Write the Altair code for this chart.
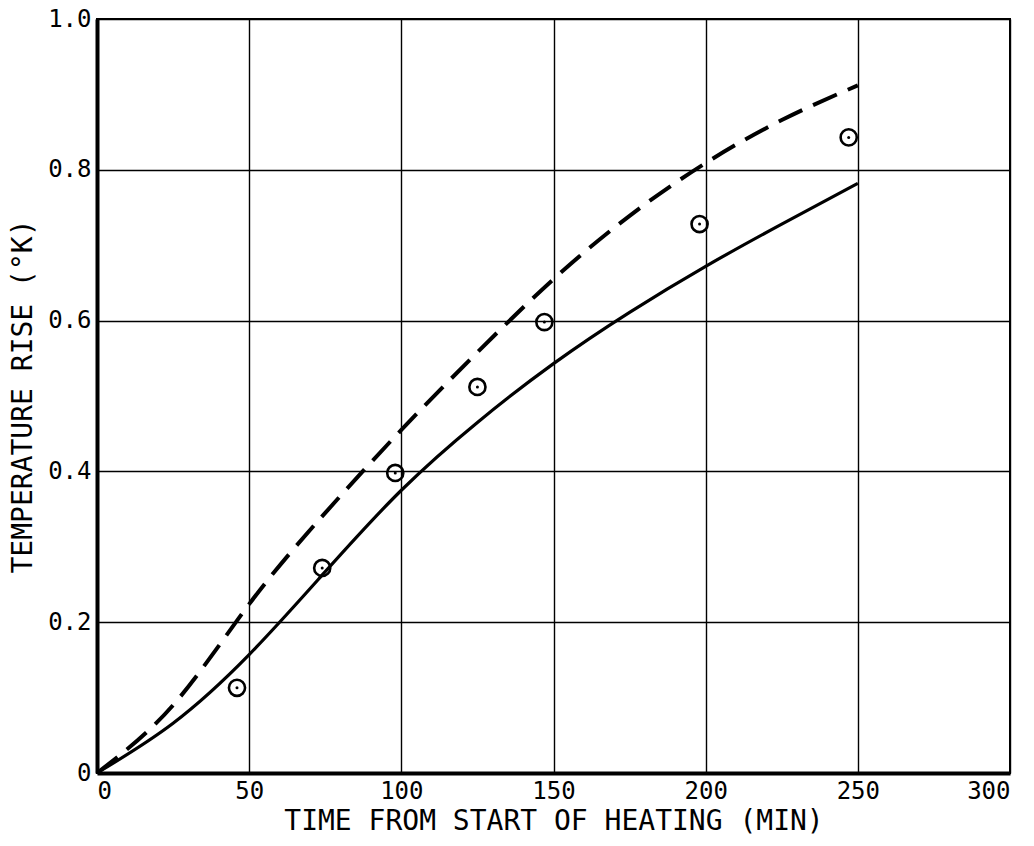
import altair as alt
import pandas as pd

# Solid curve (computed)
solid_t = [0, 25, 50, 75, 100, 125, 150, 175, 200, 225, 250]
solid_v = [0.0, 0.066, 0.157, 0.267, 0.375, 0.465, 0.543, 0.611, 0.672, 0.728, 0.782]

# Dashed curve
dash_t = [0, 25, 50, 75, 100, 125, 150, 175, 200, 225, 250]
dash_v = [0.0, 0.09, 0.224, 0.345, 0.455, 0.558, 0.655, 0.739, 0.809, 0.866, 0.912]

# Measured points
pt_t = [46, 74, 98, 125, 147, 198, 247]
pt_v = [0.113, 0.272, 0.398, 0.512, 0.598, 0.728, 0.843]

solid_df = pd.DataFrame({"t": solid_t, "v": solid_v})
dash_df = pd.DataFrame({"t": dash_t, "v": dash_v})
pt_df = pd.DataFrame({"t": pt_t, "v": pt_v})

FONT = "DejaVu Sans Mono"

x_scale = alt.Scale(domain=[0, 300], nice=False, zero=True)
y_scale = alt.Scale(domain=[0, 1.0], nice=False)

x_axis = alt.Axis(
    title="TIME FROM START OF HEATING (MIN)",
    values=[0, 50, 100, 150, 200, 250, 300],
    grid=True, gridColor="black", gridWidth=1.4, gridOpacity=1,
    domainColor="black", domainWidth=4,
    ticks=False, labelPadding=6,
    labelFont=FONT, labelFontSize=24, labelColor="black",
    titleFont=FONT, titleFontSize=28, titleFontWeight="normal", titleColor="black",
    titlePadding=4,
)
y_axis = alt.Axis(
    title="TEMPERATURE RISE (°K)",
    values=[0, 0.2, 0.4, 0.6, 0.8, 1.0],
    labelExpr="datum.value == 0 ? '0' : format(datum.value, '.1f')",
    grid=True, gridColor="black", gridWidth=1.4, gridOpacity=1,
    domainColor="black", domainWidth=4,
    ticks=False, labelPadding=6,
    labelFont=FONT, labelFontSize=24, labelColor="black",
    titleFont=FONT, titleFontSize=28, titleFontWeight="normal", titleColor="black",
    titlePadding=10,
)

solid = alt.Chart(solid_df).mark_line(
    color="black", strokeWidth=3.2, interpolate="natural"
).encode(
    x=alt.X("t:Q", scale=x_scale, axis=x_axis),
    y=alt.Y("v:Q", scale=y_scale, axis=y_axis),
)

dashed = alt.Chart(dash_df).mark_line(
    color="black", strokeWidth=4, strokeDash=[26, 12], interpolate="natural"
).encode(
    x=alt.X("t:Q", scale=x_scale),
    y=alt.Y("v:Q", scale=y_scale),
)

circles = alt.Chart(pt_df).mark_point(
    shape="circle", size=260, color="black", strokeWidth=2.6, filled=False, opacity=1
).encode(
    x=alt.X("t:Q", scale=x_scale),
    y=alt.Y("v:Q", scale=y_scale),
)

dots = alt.Chart(pt_df).mark_point(
    shape="circle", size=9, color="black", filled=True, opacity=1
).encode(
    x=alt.X("t:Q", scale=x_scale),
    y=alt.Y("v:Q", scale=y_scale),
)

chart = alt.layer(solid, dashed, circles, dots).properties(
    width=913, height=754,
    autosize=alt.AutoSizeParams(type="none"),
    padding={"left": 97, "top": 19, "right": 24, "bottom": 73},
    background="white",
).configure_view(
    stroke="black", strokeWidth=2
)

chart.save("out.html", embed_options={"renderer": "svg", "actions": False})
